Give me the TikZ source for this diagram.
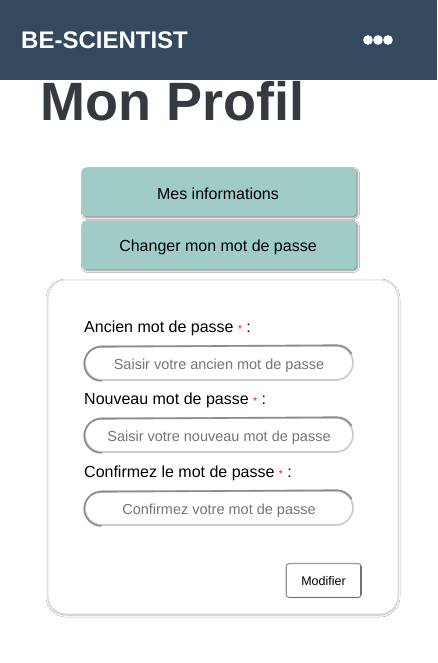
\documentclass[tikz,border=0pt]{standalone}
\usepackage{fontspec}
\setmainfont{Liberation Sans}
\usetikzlibrary{shadows,shadows.blur}
\definecolor{hdr}{HTML}{34495E}
\definecolor{ttl}{HTML}{343A40}
\definecolor{btn}{HTML}{9FCCC7}
\definecolor{ph}{HTML}{757575}
\definecolor{bord}{HTML}{8C8C8C}
\tikzset{
  px/.style={font=\fontsize{#1}{#1}\selectfont},
  tabbtn/.style={fill=btn, rounded corners=3pt, minimum width=274pt, minimum height=48pt, inner sep=0pt,
     blur shadow={shadow xshift=1.5pt, shadow yshift=-1.5pt, shadow blur steps=5, shadow blur radius=1.8pt, shadow opacity=45}},
  field/.style={fill=white, draw=bord!45, line width=1.6pt, rounded corners=17pt, minimum width=268pt, minimum height=34pt, inner sep=0pt},
  lbl/.style={px=16, anchor=base west, inner sep=0pt, text=black},
  phtext/.style={px=14.5, anchor=base, inner sep=0pt, text=ph},
}
\begin{document}
\begin{tikzpicture}[x=1pt,y=-1pt]
\useasboundingbox (0,0) rectangle (437,663);
\fill[white] (0,0) rectangle (437,663);
% header
\fill[hdr] (0,0) rectangle (437,80);
\node[font=\bfseries\fontsize{24}{24}\selectfont, text=white, anchor=base west, inner sep=0pt] (brand) at (21,49) {BE-SCIENTIST};
\foreach \cx in {368,378,388} \fill[white] (\cx,40) circle (4.8pt);
% title
\node[font=\bfseries\fontsize{54}{54}\selectfont, text=ttl, anchor=base west, inner sep=0pt] (title) at (40,121) {Mon Profil};
% tab buttons
\node[tabbtn] (b1) at (219,192) {};
\node[px=16, anchor=base, inner sep=0pt] (b1t) at (218,199) {Mes informations};
\node[tabbtn] (b2) at (219,245) {};
\node[px=16, anchor=base, inner sep=0pt] (b2t) at (218,251) {Changer mon mot de passe};
% card
\path[blur shadow={shadow xshift=0pt, shadow yshift=-1pt, shadow blur steps=5, shadow blur radius=2pt, shadow opacity=30}, fill=white, draw=black!15, line width=0.8pt, rounded corners=18pt] (48,280) rectangle (398,614);
% labels
\node[lbl] (l1) at (84,332) {Ancien mot de passe {\color{red}\fontsize{10}{10}\selectfont *} :};
\node[lbl] (l2) at (84,404) {Nouveau mot de passe {\color{red}\fontsize{10}{10}\selectfont *} :};
\node[lbl] (l3) at (84,477) {Confirmez le mot de passe {\color{red}\fontsize{10}{10}\selectfont *} :};
% fields
\foreach \cy/\nm in {363/f1,435/f2,508/f3}{
  \node[field] (\nm) at (219,\cy) {};
}
\foreach \nm in {f1,f2,f3}{
  \draw[bord, line width=1.6pt, line cap=round]
    ([xshift=17pt]\nm.south west) arc[start angle=270, end angle=90, radius=17pt] -- ([xshift=-17pt]\nm.north east)
    arc[start angle=90, end angle=30, radius=17pt];
}
\node[phtext] (p1) at (219,369) {Saisir votre ancien mot de passe};
\node[phtext] (p2) at (219,441) {Saisir votre nouveau mot de passe};
\node[phtext] (p3) at (219,514) {Confirmez votre mot de passe};
% submit
\node[fill=white, draw=black!40, line width=1.2pt, rounded corners=3pt, minimum width=75pt, minimum height=34pt, inner sep=0pt] (mod) at (323.7,580.5) {};
\draw[black!55, line width=1.4pt] ([xshift=3pt,yshift=0.7pt]mod.south west) -- ([xshift=-3pt,yshift=0.7pt]mod.south east);
\draw[black!55, line width=1.4pt] ([xshift=-0.7pt,yshift=3pt]mod.south east) -- ([xshift=-0.7pt,yshift=-3pt]mod.north east);
\node[px=12.5, anchor=base, inner sep=0pt] (modt) at (323.5,585.7) {Modifier};
\end{tikzpicture}
\end{document}
